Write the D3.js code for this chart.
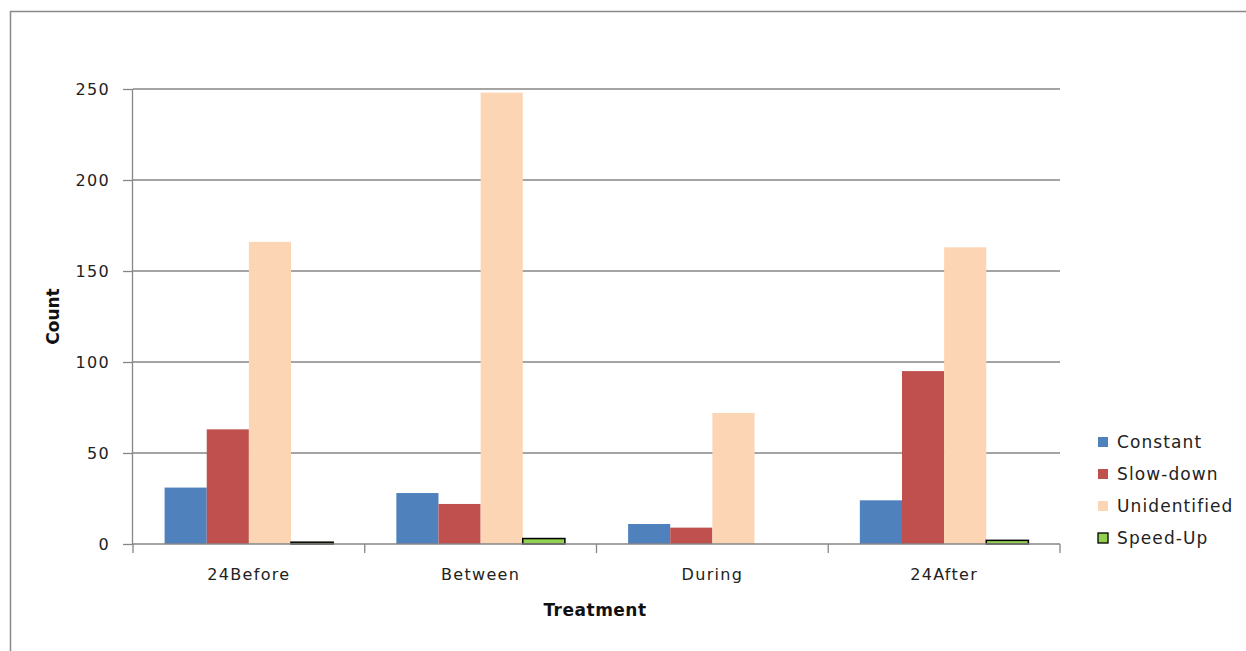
<!DOCTYPE html>
<html><head><meta charset="utf-8">
<script src="https://cdn.jsdelivr.net/npm/d3@7/dist/d3.min.js"></script>
<style>body{margin:0;background:#fff;}svg{display:block;font-family:"DejaVu Sans",sans-serif;}</style>
</head><body>
<svg id="c" width="1246" height="651"></svg>
<script>
const categories = ["24Before", "Between", "During", "24After"];
const seriesNames = ["Constant", "Slow-down", "Unidentified", "Speed-Up"];
const constant = [31, 28, 11, 24];
const slowDown = [63, 22, 9, 95];
const unidentified = [166, 248, 72, 163];
const speedUp = [1, 3, 0, 2];
const yTicks = [0, 50, 100, 150, 200, 250];
const colors = ["#4F81BD", "#C0504D", "#FCD5B5", "#92D050"];

const seriesValues = [constant, slowDown, unidentified, speedUp];
const svg = d3.select("#c");
// outer chart border
svg.append("rect").attr("x", 10.5).attr("y", 11.5).attr("width", 1260).attr("height", 660)
  .attr("fill", "#fff").attr("stroke", "#888").attr("stroke-width", 1.5);

const L = 133, R = 1060, T = 89, B = 544;
const x0 = d3.scaleBand().domain(categories).range([L, R]).paddingInner(0).paddingOuter(0);
const bw = x0.bandwidth() / 5.5;
const x1 = d3.scaleBand().domain(seriesNames).range([0.75 * bw, 4.75 * bw]).padding(0);
const y = d3.scaleLinear().domain([0, 250]).range([B, T]);

// gridlines
svg.append("g").selectAll("line").data(yTicks.filter(d => d > 0)).join("line")
  .attr("x1", L).attr("x2", R).attr("y1", d => y(d)).attr("y2", d => y(d))
  .attr("stroke", "#868686").attr("stroke-width", 1.3);

// bars
const g = svg.append("g");
categories.forEach((c, i) => {
  seriesNames.forEach((s, j) => {
    const v = seriesValues[j][i];
    if (v <= 0) return;
    g.append("rect")
      .attr("x", x0(c) + x1(s)).attr("width", x1.bandwidth())
      .attr("y", y(v)).attr("height", y(0) - y(v))
      .attr("fill", colors[j])
      .attr("stroke", j === 3 ? "#000" : "none").attr("stroke-width", j === 3 ? 1.5 : 0);
  });
});

// y axis
const ya = svg.append("g").attr("transform", `translate(${L},0)`)
  .call(d3.axisLeft(y).tickValues(yTicks).tickSize(10).tickPadding(13));
ya.select(".domain").attr("stroke", "#868686").attr("stroke-width", 1.3).attr("d", `M-0.5,${T}V${B}`);
ya.selectAll(".tick line").attr("stroke", "#868686").attr("stroke-width", 1.3);
ya.selectAll("text").attr("font-size", 16).attr("fill", "#222").attr("font-family", "DejaVu Sans")
  .attr("letter-spacing", 1.3);

// x axis
const xa = svg.append("g").attr("transform", `translate(0,${B})`)
  .call(d3.axisBottom(x0).tickSize(0).tickPadding(25));
xa.select(".domain").attr("stroke", "#868686").attr("stroke-width", 1.3).attr("d", `M${L},0H${R}`);
xa.selectAll("text").attr("font-size", 16).attr("fill", "#222").attr("font-family", "DejaVu Sans")
  .attr("letter-spacing", 1.3);
const bounds = [L, ...categories.map(c => x0(c) + x0.bandwidth())];
svg.append("g").selectAll("line").data(bounds).join("line")
  .attr("x1", d => d).attr("x2", d => d).attr("y1", B).attr("y2", B + 9)
  .attr("stroke", "#868686").attr("stroke-width", 1.3);

// axis titles
svg.append("text").attr("x", 595).attr("y", 616).attr("text-anchor", "middle")
  .attr("font-weight", "bold").attr("font-size", 17).attr("letter-spacing", 0.5).attr("fill", "#111").text("Treatment");
svg.append("text").attr("transform", `translate(59,${(T + B) / 2}) rotate(-90)`).attr("text-anchor", "middle")
  .attr("font-weight", "bold").attr("font-size", 17).attr("fill", "#111").text("Count");

// legend
const lg = svg.append("g");
seriesNames.forEach((s, j) => {
  const yy = 442 + j * 32;
  lg.append("rect").attr("x", 1098).attr("y", yy - 5).attr("width", 10).attr("height", 10)
    .attr("fill", colors[j]).attr("stroke", j === 3 ? "#000" : "none").attr("stroke-width", 1.3);
  lg.append("text").attr("x", 1117).attr("y", yy + 6).attr("font-size", 17).attr("letter-spacing", 1.1)
    .attr("fill", "#222").text(s);
});
</script>
</body></html>
